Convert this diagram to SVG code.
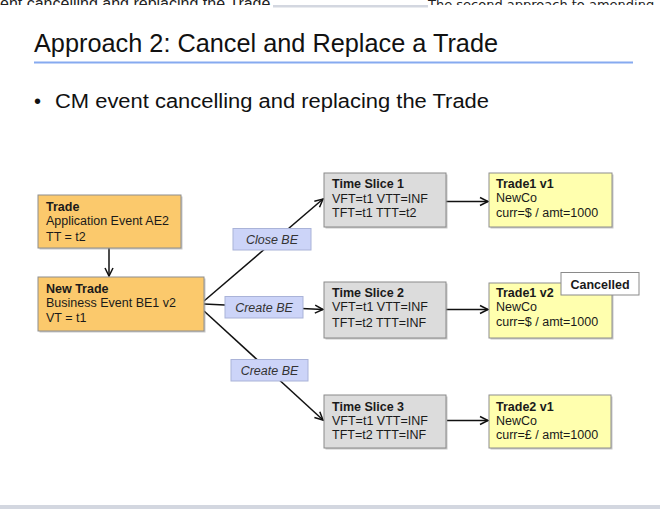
<svg xmlns="http://www.w3.org/2000/svg" width="660" height="509" viewBox="0 0 660 509">
<defs>
<clipPath id="topclip"><rect x="0" y="0" width="660" height="5"/></clipPath>
<marker id="arr" markerUnits="userSpaceOnUse" markerWidth="12" markerHeight="12" refX="9" refY="5" orient="auto" overflow="visible">
<path d="M1,1 L9,5 L1,9" fill="none" stroke="#111" stroke-width="1.5"/>
</marker>
</defs>
<style>
text{font-family:"Liberation Sans",Arial,sans-serif;}
.t{font-size:12.5px;fill:#1a1a1a;}
.b{font-weight:bold;}
.sh{fill:#9a9a9a;opacity:0.55;}
.or{fill:#fbc96c;stroke:#8e8e8e;stroke-width:1;}
.gr{fill:#dcdcdc;stroke:#8a8a8a;stroke-width:1;}
.ye{fill:#ffffae;stroke:#8e8e8e;stroke-width:1;}
.lb{fill:#ccd4f8;stroke:#aab3d8;stroke-width:1;}
.lt{font-size:12.5px;font-style:italic;fill:#333;text-anchor:middle;}
.ln{stroke:#111;stroke-width:1.5;fill:none;}
</style>
<rect x="0" y="0" width="660" height="509" fill="#fff"/>
<g id="header">
<rect x="273" y="5" width="155" height="2.5" fill="#d3d7e0"/>
<g clip-path="url(#topclip)">
<text x="0" y="9" font-size="16" fill="#222">ent cancelling and replacing the Trade</text>
<text x="428" y="8.5" font-size="13" fill="#222" style="font-family:'DejaVu Sans',sans-serif">The second approach to amending</text>
</g>
<text x="34" y="51.5" font-size="25.3" fill="#111">Approach 2: Cancel and Replace a Trade</text>
<rect x="34" y="61.5" width="599" height="2" fill="#86aaf0"/>
<text x="34" y="108" font-size="20" fill="#111">•</text>
<text x="55" y="108" font-size="20" fill="#111" textLength="434" lengthAdjust="spacingAndGlyphs">CM event cancelling and replacing the Trade</text>
<rect x="0" y="505" width="660" height="4" fill="#d3d7e0"/>
</g>
<g id="connectors">
<line class="ln" x1="109" y1="248" x2="109" y2="276" marker-end="url(#arr)"/>
<line class="ln" x1="204" y1="301" x2="323" y2="199" marker-end="url(#arr)"/>
<line class="ln" x1="204" y1="304" x2="323" y2="309.5" marker-end="url(#arr)"/>
<line class="ln" x1="204" y1="311" x2="323" y2="420" marker-end="url(#arr)"/>
<line class="ln" x1="446" y1="201.5" x2="488" y2="201.5" marker-end="url(#arr)"/>
<line class="ln" x1="446" y1="309.5" x2="488" y2="309.5" marker-end="url(#arr)"/>
<line class="ln" x1="447" y1="420.5" x2="488" y2="420.5" marker-end="url(#arr)"/>
<g id="lbl-close"><rect class="lb" x="233" y="228.5" width="78" height="21.5"/><text class="lt" x="272" y="244">Close BE</text></g>
<g id="lbl-create1"><rect class="lb" x="225" y="296.5" width="78" height="21.5"/><text class="lt" x="264" y="312">Create BE</text></g>
<g id="lbl-create2"><rect class="lb" x="231" y="359.5" width="77" height="21.5"/><text class="lt" x="269.5" y="375">Create BE</text></g>
</g>
<g id="trade">
<rect class="sh" x="39.5" y="196.5" width="143" height="53"/>
<rect class="or" x="38" y="195" width="143" height="53"/>
<text class="t b" x="46" y="210.5">Trade</text>
<text class="t" x="46" y="225">Application Event AE2</text>
<text class="t" x="46" y="240.5">TT = t2</text>
</g>
<g id="newtrade">
<rect class="sh" x="39.5" y="278.5" width="166" height="54"/>
<rect class="or" x="38" y="277" width="166" height="54"/>
<text class="t b" x="46" y="292.5">New Trade</text>
<text class="t" x="46" y="307">Business Event BE1 v2</text>
<text class="t" x="46" y="322">VT = t1</text>
</g>
<g id="ts1">
<rect class="sh" x="325.5" y="174.5" width="122" height="54"/>
<rect class="gr" x="324" y="173" width="122" height="54"/>
<text class="t b" x="332" y="188">Time Slice 1</text>
<text class="t" x="332" y="202.5">VFT=t1 VTT=INF</text>
<text class="t" x="332" y="217">TFT=t1 TTT=t2</text>
</g>
<g id="trade1v1">
<rect class="sh" x="490.5" y="174.5" width="123" height="54"/>
<rect class="ye" x="489" y="173" width="123" height="54"/>
<text class="t b" x="496" y="188">Trade1 v1</text>
<text class="t" x="496" y="202">NewCo</text>
<text class="t" x="496" y="217">curr=$ / amt=1000</text>
</g>
<g id="ts2">
<rect class="sh" x="325.5" y="283.5" width="122" height="56"/>
<rect class="gr" x="324" y="282" width="122" height="56"/>
<text class="t b" x="332" y="296.5">Time Slice 2</text>
<text class="t" x="332" y="311">VFT=t1 VTT=INF</text>
<text class="t" x="332" y="326.5">TFT=t2 TTT=INF</text>
</g>
<g id="trade1v2">
<rect class="sh" x="490.5" y="284.5" width="123" height="55"/>
<rect class="ye" x="489" y="283" width="123" height="55"/>
<text class="t b" x="496" y="297">Trade1 v2</text>
<text class="t" x="496" y="311">NewCo</text>
<text class="t" x="496" y="326">curr=$ / amt=1000</text>
</g>
<g id="cancelled">
<rect x="561" y="272.5" width="78" height="22.5" fill="#fff" stroke="#8a8a8a" stroke-width="1"/>
<text class="t b" x="600" y="288.5" text-anchor="middle">Cancelled</text>
</g>
<g id="ts3">
<rect class="sh" x="325.5" y="396.5" width="122" height="53"/>
<rect class="gr" x="324" y="395" width="122" height="53"/>
<text class="t b" x="332" y="411">Time Slice 3</text>
<text class="t" x="332" y="424.5">VFT=t1 VTT=INF</text>
<text class="t" x="332" y="438.5">TFT=t2 TTT=INF</text>
</g>
<g id="trade2v1">
<rect class="sh" x="490.5" y="396.5" width="122" height="53"/>
<rect class="ye" x="489" y="395" width="122" height="53"/>
<text class="t b" x="496" y="411">Trade2 v1</text>
<text class="t" x="496" y="424.5">NewCo</text>
<text class="t" x="496" y="438.5">curr=£ / amt=1000</text>
</g>
</svg>
